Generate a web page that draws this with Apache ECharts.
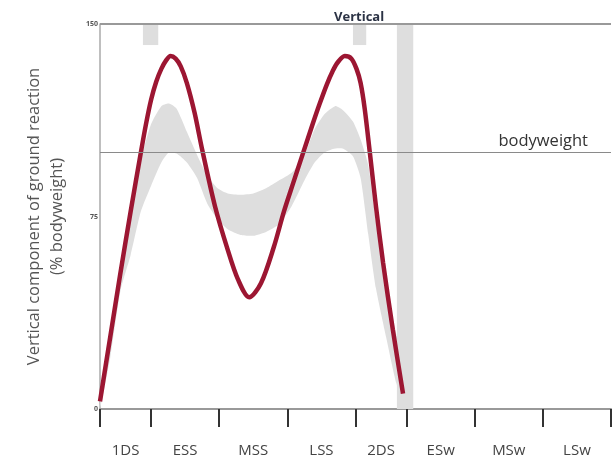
<!DOCTYPE html>
<html>
<head>
<meta charset="utf-8">
<script src="https://cdn.jsdelivr.net/npm/echarts@6/dist/echarts.min.js"></script>
<style>
html,body{margin:0;padding:0;background:#fff;}
#c{width:614px;height:458px;}
</style>
</head>
<body>
<div id="c"></div>
<script>
// Gait phase boundaries (% of gait cycle) and labels
var phaseBounds = [0, 10, 23.33, 36.67, 50, 60, 73.33, 86.67, 100];
var phaseLabels = ['1DS', 'ESS', 'MSS', 'LSS', '2DS', 'ESw', 'MSw', 'LSw'];

// Patient vertical ground reaction force (% bodyweight)
var patientX = [0, 2, 4, 6, 8, 9, 10, 11, 12, 13, 13.8, 14.8, 15.8, 17, 18.5, 20, 22.5, 25, 27, 29.2, 31.5, 34, 36, 37.8, 39.7, 41.7, 43, 44.4, 45.5, 46.5, 47.9, 49.2, 50.2, 51, 51.8, 52.8, 54, 55.4, 57.3, 59.3];
var patientY = [3, 28, 53, 77, 100, 111, 120.5, 127.5, 132.5, 136, 137.5, 136.5, 133.5, 127, 115.5, 101, 79, 62, 50.5, 43.5, 49, 63, 77, 88, 99.5, 111.5, 119, 126.5, 131.5, 135, 137.5, 136.5, 132.5, 127, 117, 100, 79, 57, 31, 6];

// Normative band (mean +/- SD)
var bandX     = [0, 2, 4, 6, 8, 10, 12, 13.5, 15, 17, 19, 21, 23, 25, 27.5, 30, 32.5, 35, 37.5, 40, 42, 44, 46, 47.5, 49.5, 51, 52.5, 54, 56, 58, 59.5, 61];
var bandLower = [0, 20, 46, 60, 77, 87, 96, 100, 99.5, 96, 90, 80, 74, 70, 67.8, 67.5, 69, 72, 79, 89, 96, 100, 101.5, 101.5, 98.5, 90, 68, 47, 28, 10, 3, 0];
var bandUpper = [3, 28, 55, 77, 97, 111, 118, 119, 117, 108, 99, 91, 86, 84, 83.5, 84, 86, 89, 92, 99, 109, 115, 118, 116.5, 112, 105, 95, 73, 46, 29, 14, 6];

// Timing variability bars: [xStart, xEnd, yStart, yEnd]
var timingBars = [[8.4, 11.4, 141.8, 150], [49.5, 52.1, 141.8, 150], [58.1, 61.3, 0, 150]];

var bodyweight = 100;
var yMax = 150;
var yTicks = [0, 75, 150];

var labelMid = [];
for (var i = 0; i < phaseLabels.length; i++) labelMid.push((phaseBounds[i] + phaseBounds[i + 1]) / 2);

var chart = echarts.init(document.getElementById('c'), null, {renderer: 'canvas'});
var font = '"Open Sans", "Liberation Sans", sans-serif';

chart.setOption({
  animation: false,
  backgroundColor: '#fff',
  title: {
    text: 'Vertical',
    left: 329, top: 6,
    textStyle: {fontSize: 13, fontWeight: 'bold', color: '#2b3244', fontFamily: font}
  },
  grid: {left: 100, right: 3, top: 24, bottom: 49, containLabel: false},
  xAxis: {
    type: 'value', min: 0, max: 100,
    axisLine: {show: true, lineStyle: {color: '#999', width: 2}},
    axisTick: {show: true, customValues: phaseBounds, length: 18, lineStyle: {color: '#333', width: 2}},
    axisLabel: {
      customValues: labelMid, margin: 34, fontSize: 15, color: '#444', fontFamily: font,
      formatter: function (v) {
        var best = 0, d = 1e9;
        for (var k = 0; k < labelMid.length; k++) { var dd = Math.abs(labelMid[k] - v); if (dd < d) { d = dd; best = k; } }
        return phaseLabels[best];
      }
    },
    splitLine: {show: false}
  },
  yAxis: {
    type: 'value', min: 0, max: yMax,
    name: 'Vertical component of ground reaction\n(% bodyweight)',
    nameLocation: 'middle', nameGap: 31,
    nameTextStyle: {fontSize: 16.5, color: '#555', fontFamily: font, lineHeight: 23, align: 'center'},
    axisLine: {show: true, lineStyle: {color: '#aaa', width: 1.5}},
    axisTick: {show: false},
    axisLabel: {customValues: yTicks, fontSize: 7, fontWeight: 'bold', color: '#555', margin: 2, fontFamily: font},
    splitLine: {show: false}
  },
  series: [
    {
      type: 'custom',
      silent: true,
      z: 1,
      data: [0],
      renderItem: function (params, api) {
        var pts = [];
        for (var i = 0; i < bandX.length; i++) pts.push(api.coord([bandX[i], bandUpper[i]]));
        for (var j = bandX.length - 1; j >= 0; j--) pts.push(api.coord([bandX[j], bandLower[j]]));
        return {type: 'polygon', shape: {points: pts, smooth: 0.2}, style: {fill: '#dedede'}};
      }
    },
    {
      type: 'line',
      z: 3,
      data: patientX.map(function (x, i) { return [x, patientY[i]]; }),
      smooth: 0.3,
      showSymbol: false,
      lineStyle: {color: '#9c1632', width: 4.5},
      markArea: {
        silent: true,
        itemStyle: {color: '#dedede'},
        data: timingBars.map(function (b) { return [{xAxis: b[0], yAxis: b[2]}, {xAxis: b[1], yAxis: b[3]}]; })
      },
      markLine: {
        silent: true,
        symbol: 'none',
        data: [
          {yAxis: bodyweight, lineStyle: {color: '#8a8a8a', width: 1.2, type: 'solid'},
           label: {show: true, formatter: 'bodyweight', position: 'insideEndTop', distance: [23, 3], fontSize: 16.5, color: '#333', fontFamily: font}},
          {yAxis: yMax, lineStyle: {color: '#999', width: 2, type: 'solid'}, label: {show: false}}
        ]
      }
    }
  ]
});
</script>
</body>
</html>
